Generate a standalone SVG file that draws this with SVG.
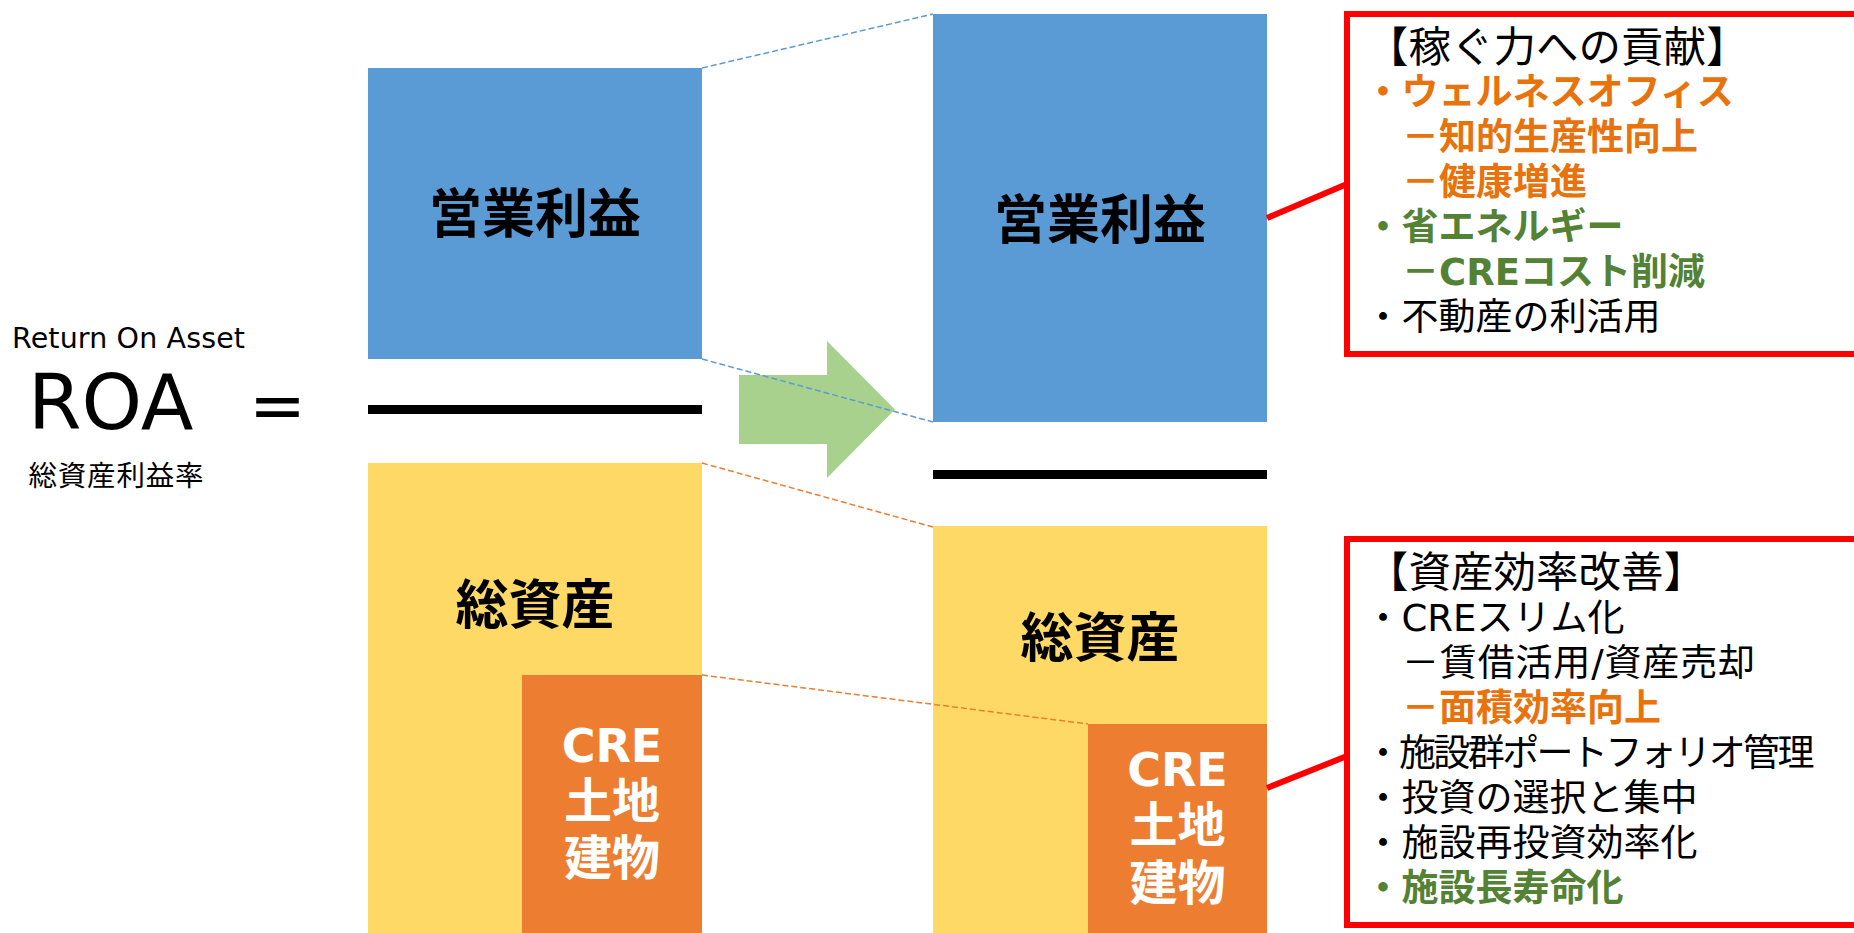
<svg xmlns="http://www.w3.org/2000/svg" width="1854" height="933" viewBox="0 0 1854 933">
<defs>
<style>
text { font-family: "DejaVu Sans", "Noto Sans CJK JP", sans-serif; fill: #000; }
.big { font-size: 53px; font-weight: bold; text-anchor: middle; }
.cre { font-size: 48px; font-weight: bold; fill: #fff; text-anchor: middle; }
.cre-latin { font-size: 46px; }
.box { font-size: 37px; }
.head { font-size: 42.5px; }
.b { font-weight: bold; }
.org { fill: #E8720C; }
.grn { fill: #548235; }
.blue { fill: #5B9BD5; }
.yel { fill: #FFD966; }
.orn { fill: #ED7D31; }
.bar { fill: #000; }
.dash-b { stroke: #5B9BD5; stroke-width: 1.5; stroke-dasharray: 6 3; fill: none; }
.dash-o { stroke: #ED7D31; stroke-width: 1.5; stroke-dasharray: 6 3; fill: none; }
.red { stroke: #FF0000; stroke-width: 6; fill: none; }
</style>
</defs>
<rect width="1854" height="933" fill="#fff"/>

<g id="roa-label">
<text x="12" y="348" font-size="28.5" textLength="233" lengthAdjust="spacing">Return On Asset</text>
<text x="28" y="429" font-size="77">ROA</text>
<text x="277.5" y="429" font-size="68" text-anchor="middle">=</text>
<text x="28.5" y="486" font-size="28.5" textLength="175" lengthAdjust="spacing">総資産利益率</text>
</g>

<g id="left-profit">
<rect class="blue" x="368" y="68" width="334" height="291"/>
<text class="big" x="535" y="233">営業利益</text>
</g>
<g id="left-divider">
<rect class="bar" x="368" y="405" width="334" height="9"/>
</g>
<g id="left-assets">
<rect class="yel" x="368" y="463" width="334" height="470"/>
<text class="big" x="535" y="624">総資産</text>
</g>
<g id="left-cre">
<rect class="orn" x="522" y="675" width="180" height="258"/>
<text class="cre" x="612" y="762"><tspan class="cre-latin">CRE</tspan></text>
<text class="cre" x="612" y="818">土地</text>
<text class="cre" x="612" y="875">建物</text>
</g>

<g id="arrow">
<polygon fill="#A9D18E" points="739,375 827,375 827,341 895,409.5 827,478 827,444 739,444"/>
</g>

<g id="right-profit">
<rect class="blue" x="933" y="14" width="334" height="408"/>
<text class="big" x="1100" y="239">営業利益</text>
</g>
<g id="right-divider">
<rect class="bar" x="933" y="470" width="334" height="9"/>
</g>
<g id="right-assets">
<rect class="yel" x="933" y="526" width="334" height="407"/>
<text class="big" x="1100" y="657">総資産</text>
</g>
<g id="right-cre">
<rect class="orn" x="1088" y="724" width="179" height="209"/>
<text class="cre" x="1177.5" y="786"><tspan class="cre-latin">CRE</tspan></text>
<text class="cre" x="1177.5" y="842">土地</text>
<text class="cre" x="1177.5" y="900">建物</text>
</g>

<g id="connectors">
<line class="dash-b" x1="702" y1="68" x2="933" y2="14"/>
<line class="dash-b" x1="702" y1="359" x2="933" y2="422"/>
<line class="dash-o" x1="702" y1="463" x2="933" y2="527"/>
<line class="dash-o" x1="702" y1="675" x2="1088" y2="724"/>
<line class="red" x1="1267" y1="218" x2="1347" y2="184"/>
<line class="red" x1="1267" y1="788" x2="1347" y2="756"/>
</g>

<g id="earning-box">
<rect class="red" x="1347" y="14" width="512" height="340"/>
<text class="head" x="1366" y="62">【稼ぐ力への貢献】</text>
<text class="box b org" x="1364.5" y="105">・ウェルネスオフィス</text>
<text class="box b org" x="1402" y="150">－知的生産性向上</text>
<text class="box b org" x="1402" y="195">－健康増進</text>
<text class="box b grn" x="1364.5" y="240">・省エネルギー</text>
<text class="box b grn" x="1402" y="285">－CREコスト削減</text>
<text class="box" x="1364.5" y="330">・不動産の利活用</text>
</g>

<g id="efficiency-box">
<rect class="red" x="1347" y="539" width="512" height="386"/>
<text class="head" x="1366" y="587">【資産効率改善】</text>
<text class="box" x="1364.5" y="631">・CREスリム化</text>
<text class="box" x="1402" y="676" textLength="353" lengthAdjust="spacing">－賃借活用/資産売却</text>
<text class="box b org" x="1402" y="721">－面積効率向上</text>
<text class="box" x="1364.5" y="766" textLength="450" lengthAdjust="spacing">・施設群ポートフォリオ管理</text>
<text class="box" x="1364.5" y="811">・投資の選択と集中</text>
<text class="box" x="1364.5" y="856">・施設再投資効率化</text>
<text class="box b grn" x="1364.5" y="901">・施設長寿命化</text>
</g>
</svg>
